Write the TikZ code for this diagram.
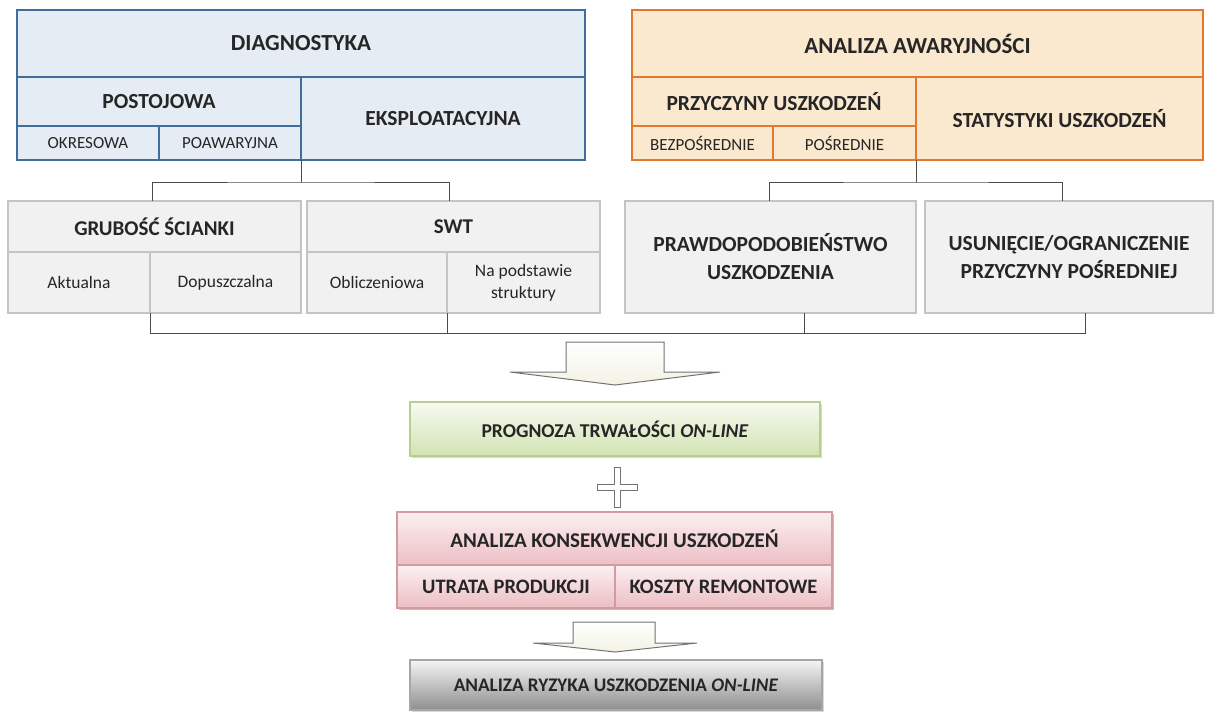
\documentclass[tikz,border=0pt]{standalone}
\usepackage{fontspec}
\setmainfont{Carlito}
\usetikzlibrary{shadows}
\definecolor{dblue}{HTML}{3F6E9C}
\definecolor{dfill}{HTML}{E6ECF3}
\definecolor{oline}{HTML}{E3782F}
\definecolor{ofill}{HTML}{FAE8CF}
\definecolor{gline}{HTML}{C4C4C4}
\definecolor{gfill}{HTML}{F1F1F1}
\definecolor{txt}{HTML}{262626}
\definecolor{grtop}{HTML}{F7FAF1}
\definecolor{grbot}{HTML}{D2E3B3}
\definecolor{grline}{HTML}{B9CD92}
\definecolor{pktop}{HTML}{FCF0F1}
\definecolor{pkbot}{HTML}{ECBEC4}
\definecolor{pkline}{HTML}{D39AA2}
\definecolor{rytop}{HTML}{F4F4F4}
\definecolor{rybot}{HTML}{8F8F8F}
\definecolor{arfill}{HTML}{F2F2E4}
\tikzset{
  cell/.style={rectangle, inner sep=0pt, outer sep=0pt, anchor=north west, align=center, text=txt},
  wh/.style 2 args={minimum width=#1pt, minimum height=#2pt},
  dg/.style={cell, draw=dblue, fill=dfill, line width=2pt},
  aw/.style={cell, draw=oline, fill=ofill, line width=2pt},
  gr/.style={cell, draw=gline, fill=gfill, line width=1.3pt},
  green/.style={cell, draw=grline, line width=1.2pt, top color=grtop, bottom color=grbot,
     drop shadow={opacity=0.3, shadow xshift=2pt, shadow yshift=-2pt}},
  pink/.style={cell, draw=pkline, line width=1.2pt, top color=pktop, bottom color=pkbot},
  ryz/.style={cell, draw=gray!70, line width=1.2pt, top color=rytop, bottom color=rybot,
     drop shadow={opacity=0.3, shadow xshift=2pt, shadow yshift=-2pt}},
  fbig/.style={font=\bfseries\fontsize{23}{26}\selectfont},
  fmid/.style={font=\bfseries\fontsize{21.5}{26}\selectfont},
  fsmall/.style={font=\fontsize{17}{20}\selectfont},
  fnorm/.style={font=\fontsize{17.5}{22}\selectfont},
  fbox/.style={font=\bfseries\fontsize{19.6}{22}\selectfont},
  conn/.style={draw=black!70, line width=1pt},
  blockarrow/.style={draw=black!55, line width=1pt, top color=white, bottom color=arfill},
  plusst/.style={draw=black!55, line width=1pt, fill=white}
}
\begin{document}
\begin{tikzpicture}[x=1pt,y=-1pt]
\useasboundingbox (0,0) rectangle (1216,715);
% DIAGNOSTYKA
\node[dg, fbig, wh={568}{67}] (diag) at (17,10) {DIAGNOSTYKA};
\node[dg, fmid, wh={284}{49}] (post) at (17,77) {POSTOJOWA};
\node[dg, fsmall, wh={142}{34}] (okr) at (17,126) {OKRESOWA};
\node[dg, fsmall, wh={142}{34}] (poaw) at (159,126) {POAWARYJNA};
\node[dg, fmid, wh={284}{83}] (eksp) at (301,77) {EKSPLOATACYJNA};
% ANALIZA AWARYJNOSCI
\node[aw, fbig, wh={571}{67}] (awar) at (632,10) {ANALIZA AWARYJNOŚCI};
\node[aw, fmid, wh={284}{49}] (przy) at (632,77) {PRZYCZYNY USZKODZEŃ};
\node[aw, fsmall, wh={141}{34}] (bezp) at (632,126) {BEZPOŚREDNIE};
\node[aw, fsmall, wh={143}{34}] (posr) at (773,126) {POŚREDNIE};
\node[aw, fmid, wh={287}{83}] (stat) at (916,77) {STATYSTYKI USZKODZEŃ};
% gray boxes
\node[gr, font=\bfseries\fontsize{21}{26}\selectfont, wh={293}{51}] (grub) at (8,201) {GRUBOŚĆ ŚCIANKI};
\node[gr, fnorm, wh={142}{61}] (akt) at (8,252) {Aktualna};
\node[gr, fnorm, wh={151}{61}] (dop) at (150,252) {Dopuszczalna};
\node[gr, font=\bfseries\fontsize{21}{26}\selectfont, wh={293}{51}] (swt) at (307,201) {SWT};
\node[gr, fnorm, wh={140}{61}] (obl) at (307,252) {Obliczeniowa};
\node[gr, fnorm, wh={153}{61}] (nps) at (447,252) {Na podstawie\\struktury};
\node[gr, font=\bfseries\fontsize{21.5}{28}\selectfont, wh={291}{112}] (praw) at (625,201) {PRAWDOPODOBIEŃSTWO\\USZKODZENIA};
\node[gr, font=\bfseries\fontsize{21.5}{28}\selectfont, wh={288}{112}] (usun) at (925,201) {USUNIĘCIE/OGRANICZENIE\\PRZYCZYNY POŚREDNIEJ};
% connector anchor points
\coordinate (ga) at ([xshift=-2.5pt]grub.north);
\coordinate (sa) at ([xshift=-4.5pt]swt.north);
\coordinate (pa) at ([xshift=-1.5pt]praw.north);
\coordinate (ua) at ([xshift=-7pt]usun.north);
% connectors top
\draw[conn] (eksp.south west) -- ++(0,22) coordinate (j1);
\draw[conn] (ga) |- (j1) -| (sa);
\draw[conn] (stat.south west) -- ++(0,22) coordinate (j2);
\draw[conn] (pa) |- (j2) -| (ua);
% connector bottom
\coordinate (bl) at (150,333);
\coordinate (br) at (1085,333);
\coordinate (pb) at (804,313);
\draw[conn] (akt.south east) -- (bl) -- (br) -- (br |- usun.south);
\draw[conn] (obl.south east) -- (obl.south east |- bl);
\draw[conn] (pb) -- (pb |- bl);
% arrow 1
\draw[blockarrow] (566,342) -- (664,342) -- (664,372) -- (720,372) -- (615,385) -- (510,372) -- (566,372) -- cycle;
% Prognoza
\node[green, fbox, wh={410}{54}] (prog) at (410,402) {PROGNOZA TRWAŁOŚCI \textit{ON-LINE}};
% plus
\draw[plusst] (614,467) -- (620,467) -- (620,484) -- (637,484) -- (637,490) -- (620,490) -- (620,507) -- (614,507) -- (614,490) -- (597,490) -- (597,484) -- (614,484) -- cycle;
% Konsekwencje
\fill[black, opacity=0.25] (399,514) rectangle (834,610);
\node[pink, font=\bfseries\fontsize{21}{24}\selectfont, wh={435}{53}] (kons) at (397,512) {ANALIZA KONSEKWENCJI USZKODZEŃ};
\node[pink, font=\bfseries\fontsize{20.5}{24}\selectfont, wh={218}{43}] (utr) at (397,565) {UTRATA PRODUKCJI};
\node[pink, font=\bfseries\fontsize{20.5}{24}\selectfont, wh={217}{43}] (kosz) at (615,565) {KOSZTY REMONTOWE};
% arrow 2
\draw[blockarrow] (573,622) -- (655,622) -- (655,643) -- (697,643) -- (615,652) -- (533,643) -- (573,643) -- cycle;
% Ryzyko
\node[ryz, font=\bfseries\fontsize{19.2}{22}\selectfont, wh={412}{50}] (ryzk) at (410,660) {ANALIZA RYZYKA USZKODZENIA \textit{ON-LINE}};
\end{tikzpicture}
\end{document}
